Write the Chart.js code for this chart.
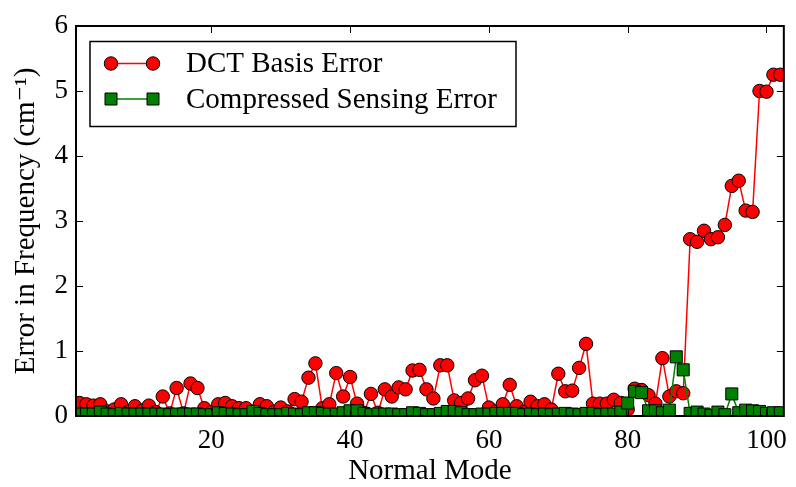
<!DOCTYPE html>
<html>
<head>
<meta charset="utf-8">
<script src="https://cdn.jsdelivr.net/npm/chart.js@4.4.1/dist/chart.umd.min.js"></script>
<style>
  html, body { margin: 0; padding: 0; background: #fff; }
  #chart { display: block; }
</style>
</head>
<body>
<canvas id="chart" width="796" height="487"></canvas>
<script>
// normal mode index, 1..102
const modes = [];
for (let m = 1; m <= 102; m++) modes.push(m);

const dctError = [
  0.20, 0.18, 0.16, 0.18, 0.07, 0.10, 0.18, 0.06, 0.15, 0.08,
  0.16, 0.06, 0.30, 0.04, 0.43, 0.04, 0.50, 0.43, 0.12, 0.06,
  0.18, 0.20, 0.15, 0.12, 0.12, 0.07, 0.18, 0.15, 0.06, 0.13,
  0.07, 0.26, 0.22, 0.59, 0.81, 0.12, 0.18, 0.66, 0.30, 0.60,
  0.19, 0.05, 0.34, 0.05, 0.41, 0.30, 0.44, 0.41, 0.70, 0.71,
  0.41, 0.27, 0.78, 0.78, 0.24, 0.20, 0.27, 0.55, 0.62, 0.13,
  0.07, 0.18, 0.48, 0.15, 0.06, 0.22, 0.15, 0.18, 0.10, 0.65,
  0.38, 0.39, 0.74, 1.11, 0.19, 0.19, 0.19, 0.25, 0.20, 0.10,
  0.42, 0.40, 0.32, 0.19, 0.89, 0.30, 0.38, 0.35, 2.72, 2.68,
  2.85, 2.72, 2.75, 2.94, 3.54, 3.62, 3.16, 3.14, 5.00, 4.99,
  5.25, 5.25
];

const csError = [
  0.03, 0.03, 0.03, 0.06, 0.03, 0.02, 0.04, 0.03, 0.03, 0.03,
  0.03, 0.03, 0.03, 0.02, 0.03, 0.03, 0.03, 0.03, 0.02, 0.02,
  0.05, 0.04, 0.03, 0.02, 0.02, 0.07, 0.04, 0.02, 0.02, 0.02,
  0.04, 0.03, 0.02, 0.05, 0.05, 0.04, 0.03, 0.03, 0.05, 0.08,
  0.08, 0.04, 0.02, 0.03, 0.03, 0.03, 0.02, 0.02, 0.05, 0.04,
  0.02, 0.02, 0.04, 0.07, 0.07, 0.05, 0.02, 0.02, 0.03, 0.03,
  0.04, 0.04, 0.04, 0.04, 0.02, 0.03, 0.02, 0.03, 0.02, 0.03,
  0.04, 0.03, 0.02, 0.04, 0.04, 0.02, 0.03, 0.03, 0.06, 0.20,
  0.38, 0.36, 0.08, 0.08, 0.05, 0.09, 0.91, 0.71, 0.04, 0.06,
  0.03, 0.01, 0.06, 0.02, 0.34, 0.05, 0.09, 0.08, 0.07, 0.04,
  0.05, 0.05
];

const xTicks = [20, 40, 60, 80, 100];
const yTicks = [0, 1, 2, 3, 4, 5, 6];

const serif = '"Liberation Serif", "DejaVu Serif", serif';

// box, inward ticks and legend, drawn over the data like matplotlib does
const frame = {
  id: 'frame',
  afterDatasetsDraw(chart) {
    const {ctx, chartArea: a, scales: {x, y}} = chart;
    ctx.save();
    ctx.strokeStyle = '#000';
    ctx.lineWidth = 1;
    ctx.beginPath();
    for (const v of xTicks) {
      const px = Math.round(x.getPixelForValue(v)) + 0.5;
      ctx.moveTo(px, a.bottom); ctx.lineTo(px, a.bottom - 7);
      ctx.moveTo(px, a.top); ctx.lineTo(px, a.top + 7);
    }
    for (const v of yTicks) {
      const py = Math.round(y.getPixelForValue(v)) + 0.5;
      ctx.moveTo(a.left, py); ctx.lineTo(a.left + 7, py);
      ctx.moveTo(a.right, py); ctx.lineTo(a.right - 7, py);
    }
    ctx.stroke();
    ctx.lineWidth = 2;
    ctx.strokeRect(a.left, a.top, a.right - a.left, a.bottom - a.top);

    // legend
    const lx = 90, ly = 41.5, lw = 426, lh = 85;
    ctx.fillStyle = '#fff';
    ctx.fillRect(lx, ly, lw, lh);
    ctx.lineWidth = 1.5;
    ctx.strokeRect(lx, ly, lw, lh);
    const rows = [63.5, 99];
    chart.data.datasets.forEach((ds, i) => {
      const yy = rows[i];
      ctx.strokeStyle = ds.borderColor;
      ctx.lineWidth = 1.5;
      ctx.beginPath();
      ctx.moveTo(111, yy); ctx.lineTo(153, yy);
      ctx.stroke();
      for (const mx of [111, 153]) {
        ctx.fillStyle = ds.pointBackgroundColor;
        ctx.strokeStyle = '#000';
        ctx.lineWidth = 1;
        ctx.beginPath();
        if (ds.pointStyle === 'rect') {
          ctx.rect(mx - 6, yy - 6, 12, 12);
        } else {
          ctx.arc(mx, yy, 6.7, 0, Math.PI * 2);
        }
        ctx.fill();
        ctx.stroke();
      }
      ctx.fillStyle = '#000';
      ctx.font = '29px ' + serif;
      ctx.textBaseline = 'middle';
      ctx.textAlign = 'left';
      ctx.fillText(ds.label, 186, yy + 1);
    });
    ctx.restore();
  }
};

new Chart(document.getElementById('chart'), {
  type: 'line',
  data: {
    datasets: [{
      label: 'DCT Basis Error',
      data: modes.map((m, i) => ({x: m, y: dctError[i]})),
      borderColor: '#ff0000',
      borderWidth: 1.5,
      pointStyle: 'circle',
      pointRadius: 6.7,
      pointBackgroundColor: '#ff0000',
      pointBorderColor: '#000',
      pointBorderWidth: 1,
      clip: 0,
      order: 1
    }, {
      label: 'Compressed Sensing Error',
      data: modes.map((m, i) => ({x: m, y: csError[i]})),
      borderColor: '#008000',
      borderWidth: 1.5,
      pointStyle: 'rect',
      pointRadius: 8.5,
      pointBackgroundColor: '#008000',
      pointBorderColor: '#000',
      pointBorderWidth: 1,
      clip: 0,
      order: 0
    }]
  },
  options: {
    responsive: false,
    animation: false,
    devicePixelRatio: 1,
    layout: {padding: {top: 26, right: 11, left: 0, bottom: 0}},
    plugins: {legend: {display: false}, tooltip: {enabled: false}},
    scales: {
      x: {
        type: 'linear',
        min: 0.5,
        max: 102.5,
        afterBuildTicks: s => { s.ticks = xTicks.map(v => ({value: v})); },
        afterFit: s => { s.height = 71; },
        grid: {display: false, drawTicks: false},
        border: {display: false},
        ticks: {color: '#000', padding: 9, maxRotation: 0, font: {family: serif, size: 27}},
        title: {display: true, text: 'Normal Mode', color: '#000', padding: {top: 0, bottom: -2}, font: {family: serif, size: 29}}
      },
      y: {
        min: 0,
        max: 6,
        afterBuildTicks: s => { s.ticks = yTicks.map(v => ({value: v})); },
        afterFit: s => { s.width = 76; },
        grid: {display: false, drawTicks: false},
        border: {display: false},
        ticks: {color: '#000', padding: 8, font: {family: serif, size: 27}},
        title: {display: true, text: 'Error in Frequency (cm\u207B\u00B9)', color: '#000', padding: {top: 9, bottom: 0}, font: {family: serif, size: 29}}
      }
    }
  },
  plugins: [frame]
});
</script>
</body>
</html>
